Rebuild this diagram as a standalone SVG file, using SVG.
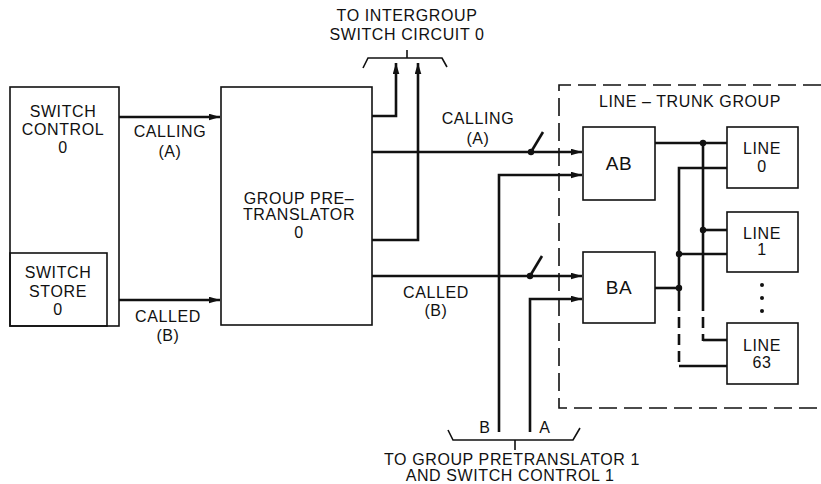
<svg xmlns="http://www.w3.org/2000/svg" width="821" height="484" viewBox="0 0 821 484">
<defs>
<style>
text{font-family:"Liberation Sans",Arial,sans-serif;font-size:16px;fill:#111;text-anchor:middle;letter-spacing:0.6px}
.box{fill:none;stroke:#111;stroke-width:1.6}
.w{fill:none;stroke:#111;stroke-width:2.6}
.thin{fill:none;stroke:#111;stroke-width:1.6}
.dash{fill:none;stroke:#111;stroke-width:1.6;stroke-dasharray:18 7}
.wd{fill:none;stroke:#111;stroke-width:2.6;stroke-dasharray:11 6}
.big{font-size:19px}
</style>
<marker id="ah" viewBox="0 0 10 6" refX="10" refY="3" markerWidth="11" markerHeight="7" markerUnits="userSpaceOnUse" orient="auto">
<path d="M0,0 L10,3 L0,6 Z" fill="#111"/>
</marker>
</defs>
<rect width="821" height="484" fill="#fff"/>

<g id="switch-control">
<rect class="box" x="10" y="87" width="109" height="239"/>
<text x="63" y="117">SWITCH</text>
<text x="63" y="135">CONTROL</text>
<text x="63" y="153">0</text>
</g>
<g id="switch-store">
<rect class="box" x="10" y="253" width="97" height="73"/>
<text x="58" y="278">SWITCH</text>
<text x="58" y="297">STORE</text>
<text x="58" y="315">0</text>
</g>
<g id="group-pretranslator">
<rect class="box" x="221" y="87" width="151" height="238"/>
<text x="299" y="204">GROUP PRE–</text>
<text x="299" y="220">TRANSLATOR</text>
<text x="299" y="238">0</text>
</g>
<g id="line-trunk-group">
<path class="dash" d="M821,85 H559 V408 H821"/>
<text x="690" y="107">LINE – TRUNK  GROUP</text>
</g>
<g id="ab">
<rect class="box" x="583" y="127" width="72" height="73"/>
<text class="big" x="619" y="170">AB</text>
</g>
<g id="ba">
<rect class="box" x="583" y="252" width="72" height="71"/>
<text class="big" x="619" y="294">BA</text>
</g>
<g id="line0">
<rect class="box" x="727" y="127" width="71" height="61"/>
<text x="762" y="154">LINE</text>
<text x="762" y="172">0</text>
</g>
<g id="line1">
<rect class="box" x="727" y="212" width="71" height="60"/>
<text x="762" y="239">LINE</text>
<text x="762" y="255">1</text>
</g>
<g id="line63">
<rect class="box" x="727" y="323" width="71" height="61"/>
<text x="762" y="351">LINE</text>
<text x="762" y="368">63</text>
</g>

<g id="connectors">
<path class="w" d="M119,117 H220" marker-end="url(#ah)"/>
<path class="w" d="M119,300 H220" marker-end="url(#ah)"/>
<path class="w" d="M372,116 H396 V63" marker-end="url(#ah)"/>
<path class="w" d="M372,240 H418 V63" marker-end="url(#ah)"/>
<path class="w" d="M372,152 H582" marker-end="url(#ah)"/>
<path class="w" d="M372,276 H582" marker-end="url(#ah)"/>
<path class="w" d="M499,432 V175 H582" marker-end="url(#ah)"/>
<path class="w" d="M530,432 V299 H582" marker-end="url(#ah)"/>
<circle cx="531" cy="152" r="3.2" fill="#111"/>
<path class="w" d="M531,152 L543,132"/>
<circle cx="530" cy="276" r="3.2" fill="#111"/>
<path class="w" d="M530,276 L542,256"/>
<path class="w" d="M655,143 H727"/>
<path class="w" d="M703,143 V300"/>
<path class="wd" d="M703,300 V341"/>
<path class="w" d="M703,340 H727"/>
<path class="w" d="M703,230 H727"/>
<circle cx="703" cy="143" r="3.2" fill="#111"/>
<circle cx="703" cy="230" r="3.2" fill="#111"/>
<path class="w" d="M727,168 H679 V300"/>
<path class="wd" d="M679,300 V367"/>
<path class="w" d="M679,366 H727"/>
<path class="w" d="M679,254 H727"/>
<path class="w" d="M655,288 H679"/>
<circle cx="679" cy="254" r="3.2" fill="#111"/>
<circle cx="679" cy="288" r="3.2" fill="#111"/>
<circle cx="762" cy="285" r="2" fill="#111"/>
<circle cx="762" cy="298" r="2" fill="#111"/>
<circle cx="762" cy="311" r="2" fill="#111"/>
<path class="thin" d="M363,68 L368,58 H442 L447,67 M407,50 V58"/>
<path class="thin" d="M448,430 L453,440 H573 L580,428 M515,440 V450"/>
</g>

<text x="170" y="137">CALLING</text>
<text x="170" y="157">(A)</text>
<text x="168" y="322">CALLED</text>
<text x="168" y="341">(B)</text>
<text x="478" y="124">CALLING</text>
<text x="478" y="144">(A)</text>
<text x="436" y="298">CALLED</text>
<text x="436" y="316">(B)</text>
<text x="407" y="21">TO INTERGROUP</text>
<text x="407" y="40">SWITCH CIRCUIT 0</text>
<text x="485" y="433">B</text>
<text x="545" y="433">A</text>
<text x="512" y="465">TO GROUP PRETRANSLATOR 1</text>
<text x="510" y="481">AND SWITCH CONTROL 1</text>
</svg>
